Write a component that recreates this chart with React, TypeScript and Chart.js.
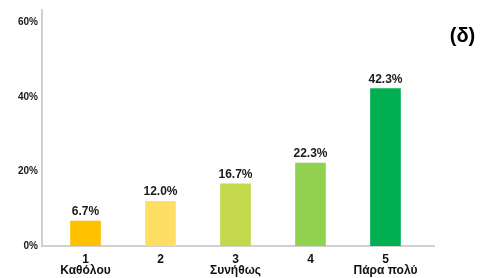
import React, { useEffect, useRef } from "react";
import { Chart, registerables } from "chart.js";

Chart.register(...registerables);

const categoryNumbers = ["1", "2", "3", "4", "5"];
const categoryNames = ["Καθόλου", "", "Συνήθως", "", "Πάρα πολύ"];
const values = [6.7, 12.0, 16.7, 22.3, 42.3];
const barColors = ["#FFC000", "#FFDF63", "#C3D84A", "#92D050", "#00B050"];
const yTicks = [0, 20, 40, 60];
const panelTitle = "(δ)";

const FONT = "'Liberation Sans', Arial, sans-serif";

export default function App() {
  const ref = useRef<HTMLCanvasElement | null>(null);

  useEffect(() => {
    document.body.style.margin = "0";
    const canvas = ref.current;
    if (!canvas) return;

    const labelPlugin = {
      id: "valueLabels",
      afterDatasetsDraw(chart: any) {
        const ctx = chart.ctx;
        const meta = chart.getDatasetMeta(0);
        ctx.save();
        ctx.font = `bold 12px ${FONT}`;
        ctx.fillStyle = "#1a1a1a";
        ctx.textAlign = "center";
        ctx.textBaseline = "alphabetic";
        meta.data.forEach((bar: any, i: number) => {
          ctx.fillText(values[i].toFixed(1) + "%", bar.x, bar.y - 6);
        });
        ctx.restore();
      },
      afterDraw(chart: any) {
        const ctx = chart.ctx;
        ctx.save();
        ctx.font = `bold 20px ${FONT}`;
        ctx.fillStyle = "#000";
        ctx.textAlign = "center";
        ctx.textBaseline = "middle";
        ctx.fillText(panelTitle, 462.5, 36);
        ctx.restore();
      },
    };

    const chart = new Chart(canvas, {
      type: "bar",
      data: {
        datasets: [
          {
            data: values.map((v, i) => ({ x: i, y: v })),
            backgroundColor: barColors,
            barThickness: 30,
          },
        ],
      },
      options: {
        animation: false,
        responsive: false,
        maintainAspectRatio: false,
        layout: { padding: { top: 10, right: 50, left: 0, bottom: 0 } },
        plugins: { legend: { display: false }, tooltip: { enabled: false } },
        scales: {
          x: {
            type: "linear",
            offset: false,
            min: -0.58,
            max: 4.647,
            afterBuildTicks: (scale: any) => {
              scale.ticks = categoryNumbers.map((_, i) => ({ value: i }));
            },
            afterFit: (scale: any) => {
              scale.height = 32;
            },
            grid: { display: false, drawTicks: false },
            border: { display: true, color: "#D0D0D0", width: 2 },
            ticks: {
              autoSkip: false,
              maxRotation: 0,
              padding: 8,
              color: "#111",
              font: { family: FONT, size: 12, weight: "bold", lineHeight: 0.95 },
              callback: (v: any) => {
                const i = Math.round(Number(v));
                return categoryNames[i] ? [categoryNumbers[i], categoryNames[i]] : categoryNumbers[i];
              },
            },
          },
          y: {
            min: 0,
            max: 63.4,
            afterBuildTicks: (scale: any) => {
              scale.ticks = yTicks.map((v) => ({ value: v }));
            },
            afterFit: (scale: any) => {
              scale.width = 42;
            },
            grid: { display: false, drawTicks: false },
            border: { display: true, color: "#D0D0D0", width: 2 },
            ticks: {
              padding: 4,
              color: "#1a1a1a",
              font: { family: FONT, size: 10, weight: "bold" },
              callback: (v: any) => v + "%",
            },
          },
        },
      },
      plugins: [labelPlugin],
    } as any);

    return () => chart.destroy();
  }, []);

  return (
    <div style={{ position: "absolute", left: 0, top: 0, width: 484, height: 278 }}>
      <canvas ref={ref} width={484} height={278} style={{ width: 484, height: 278 }} />
    </div>
  );
}
